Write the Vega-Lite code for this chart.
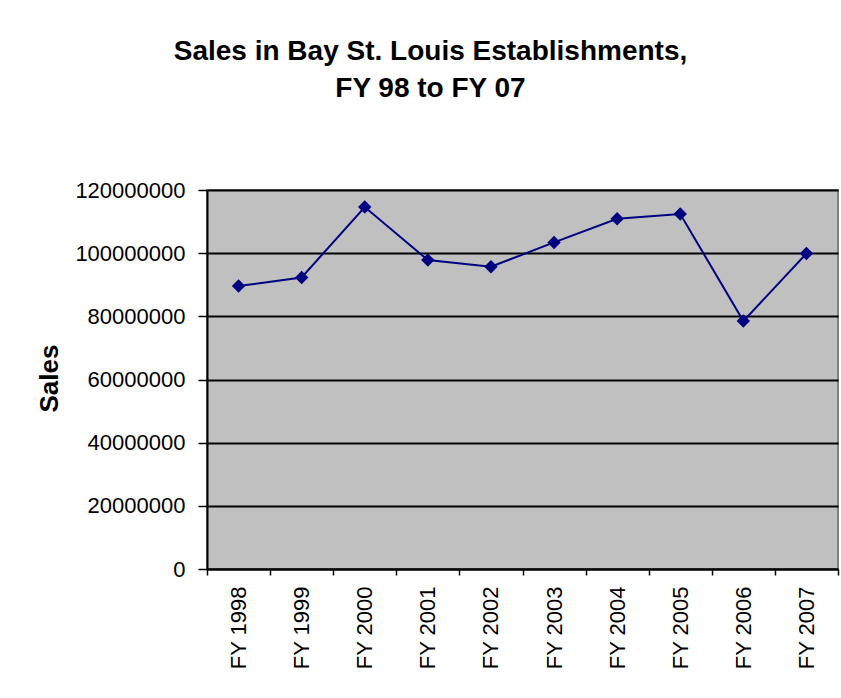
{
  "$schema": "https://vega.github.io/schema/vega-lite/v6.json",
  "width": 631,
  "height": 379,
  "autosize": {"type": "none"},
  "padding": {"left": 207, "top": 190, "right": 3, "bottom": 129},
  "background": "white",
  "config": {
    "font": "Liberation Sans",
    "view": {"fill": "#C0C0C0", "stroke": "#808080", "strokeWidth": 2}
  },
  "title": {
    "text": ["Sales in Bay St. Louis Establishments,", "FY 98 to FY 07"],
    "fontSize": 28,
    "fontWeight": "bold",
    "font": "Liberation Sans",
    "color": "black",
    "lineHeight": 37,
    "anchor": "middle",
    "frame": "group",
    "dx": -92,
    "offset": 76
  },
  "data": {
    "values": [
      {"year": "FY 1998", "sales": 89600000},
      {"year": "FY 1999", "sales": 92300000},
      {"year": "FY 2000", "sales": 114600000},
      {"year": "FY 2001", "sales": 97800000},
      {"year": "FY 2002", "sales": 95700000},
      {"year": "FY 2003", "sales": 103400000},
      {"year": "FY 2004", "sales": 110900000},
      {"year": "FY 2005", "sales": 112400000},
      {"year": "FY 2006", "sales": 78500000},
      {"year": "FY 2007", "sales": 99900000}
    ]
  },
  "encoding": {
    "x": {
      "field": "year",
      "type": "ordinal",
      "sort": null,
      "scale": {"type": "band", "paddingInner": 0, "paddingOuter": 0},
      "axis": {
        "title": null,
        "labelAngle": -90,
        "labelAlign": "right",
        "labelBaseline": "middle",
        "labelFontSize": 22,
        "labelColor": "black",
        "labelPadding": 11,
        "tickBand": "extent",
        "tickSize": 6,
        "tickColor": "black",
        "tickWidth": 1.5,
        "domainColor": "black",
        "domainWidth": 2,
        "grid": false
      }
    },
    "y": {
      "field": "sales",
      "type": "quantitative",
      "scale": {"domain": [0, 120000000], "nice": false},
      "axis": {
        "title": "Sales",
        "titleFontSize": 26,
        "titleFontWeight": "bold",
        "titleColor": "black",
        "titleX": -158,
        "titleY": 188,
        "titleAngle": -90,
        "titleAlign": "center",
        "titleBaseline": "middle",
        "values": [0, 20000000, 40000000, 60000000, 80000000, 100000000, 120000000],
        "format": "d",
        "labelFontSize": 22,
        "labelColor": "black",
        "labelPadding": 13,
        "tickSize": 9,
        "tickColor": "black",
        "tickWidth": 1.5,
        "domainColor": "black",
        "domainWidth": 2,
        "grid": true,
        "gridColor": "black",
        "gridWidth": 2
      }
    }
  },
  "layer": [
    {"mark": {"type": "line", "color": "#000080", "strokeWidth": 2}},
    {"mark": {"type": "point", "shape": "diamond", "filled": true, "color": "#000080", "size": 180, "opacity": 1}}
  ]
}
